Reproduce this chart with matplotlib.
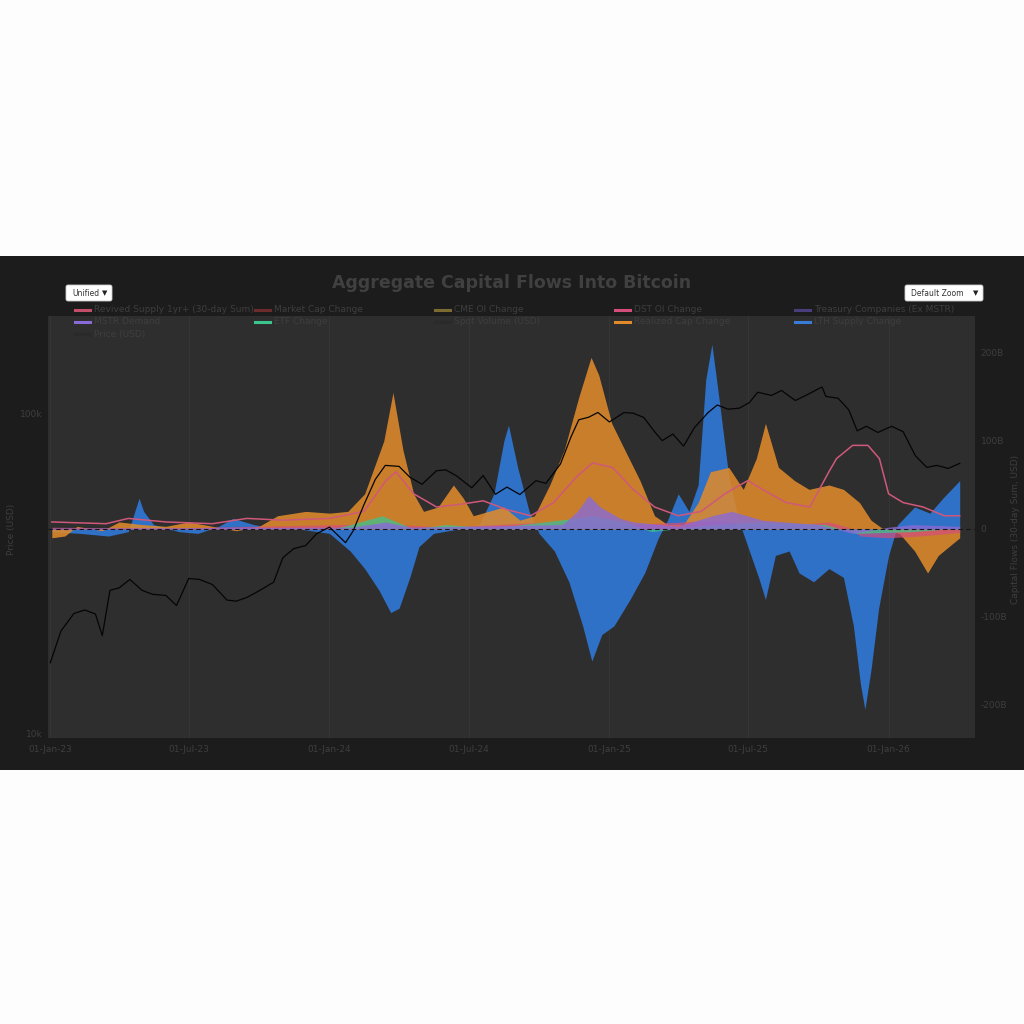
"""Aggregate capital flows into Bitcoin, dark dashboard style."""

import matplotlib

matplotlib.use("Agg")
import matplotlib.dates as mdates
import matplotlib.pyplot as plt
import pandas as pd
from matplotlib.lines import Line2D
from matplotlib.patches import FancyBboxPatch, Rectangle
from matplotlib.ticker import NullLocator

# ---- data (USD billions for flows) ----
price_dates = [
    "2023-01-01", "2023-01-15", "2023-02-01", "2023-02-15", "2023-03-01", "2023-03-10",
    "2023-03-20", "2023-04-01", "2023-04-15", "2023-05-01", "2023-05-15", "2023-06-01",
    "2023-06-15", "2023-07-01", "2023-07-15", "2023-08-01", "2023-08-20", "2023-09-01",
    "2023-09-15", "2023-10-01", "2023-10-20", "2023-11-01", "2023-11-15", "2023-12-01",
    "2023-12-15", "2024-01-01", "2024-01-22", "2024-02-01", "2024-02-15", "2024-03-01",
    "2024-03-14", "2024-04-01", "2024-04-15", "2024-05-01", "2024-05-20", "2024-06-01",
    "2024-06-15", "2024-07-05", "2024-07-20", "2024-08-05", "2024-08-20", "2024-09-06",
    "2024-09-27", "2024-10-10", "2024-10-29", "2024-11-12", "2024-11-22", "2024-12-05",
    "2024-12-17", "2025-01-01", "2025-01-20", "2025-02-01", "2025-02-15", "2025-03-01",
    "2025-03-11", "2025-03-25", "2025-04-08", "2025-04-22", "2025-05-10", "2025-05-22",
    "2025-06-05", "2025-06-20", "2025-07-03", "2025-07-14", "2025-08-01", "2025-08-14",
    "2025-09-01", "2025-09-15", "2025-10-06", "2025-10-11", "2025-10-27", "2025-11-10",
    "2025-11-21", "2025-12-03", "2025-12-18", "2026-01-05", "2026-01-20", "2026-02-05",
    "2026-02-20", "2026-03-05", "2026-03-20", "2026-04-04",
]
price_usd = [
    16600, 20900, 23700, 24300, 23600, 20200,
    28000, 28500, 30300, 28000, 27200, 27000,
    25100, 30500, 30300, 29200, 26100, 25900,
    26600, 27900, 29700, 35400, 37800, 38700,
    42100, 44200, 39500, 43000, 51900, 62400,
    69000, 68500, 63400, 60200, 66400, 66800,
    64000, 58700, 64100, 56000, 59000, 55900,
    61800, 60600, 69700, 85000, 95900, 97700,
    101100, 94400, 101000, 100600, 97500, 88000,
    82500, 86500, 79300, 90500, 101000, 106700,
    103500, 104300, 108600, 117000, 114300, 118500,
    110200, 114400, 121500, 113500, 112000, 103000,
    88500, 91500, 87500, 91500, 88000, 74000,
    68000, 69000, 67500, 70000,
]

lth_dates = [
    "2023-01-03", "2023-02-09", "2023-03-18", "2023-04-13", "2023-04-27", "2023-05-03",
    "2023-05-16", "2023-06-18", "2023-07-13", "2023-08-09", "2023-08-28", "2023-09-24",
    "2023-10-13", "2023-11-22", "2024-01-01", "2024-01-28", "2024-02-16", "2024-03-06",
    "2024-03-21", "2024-04-01", "2024-04-15", "2024-04-27", "2024-05-16", "2024-06-18",
    "2024-07-15", "2024-08-03", "2024-08-16", "2024-08-22", "2024-09-03", "2024-09-18",
    "2024-10-01", "2024-10-21", "2024-11-09", "2024-11-27", "2024-12-09", "2024-12-22",
    "2025-01-07", "2025-01-28", "2025-02-16", "2025-03-06", "2025-03-18", "2025-04-01",
    "2025-04-15", "2025-04-27", "2025-05-07", "2025-05-15", "2025-05-24", "2025-06-06",
    "2025-06-19", "2025-07-01", "2025-07-15", "2025-07-24", "2025-08-06", "2025-08-24",
    "2025-09-06", "2025-09-25", "2025-10-15", "2025-11-03", "2025-11-16", "2025-11-25",
    "2025-12-01", "2025-12-09", "2025-12-19", "2026-01-01", "2026-01-13", "2026-02-04",
    "2026-02-24", "2026-03-13", "2026-04-04",
]
lth_change = [
    -3, -5, -8, -3, 35, 20,
    5, -3, -5, 3, 12, 5,
    2, 0, -5, -25, -45, -70,
    -95, -90, -55, -20, -5, 0,
    5, 40, 100, 118, 70, 20,
    -5, -25, -60, -110, -150, -120,
    -110, -80, -50, -10, 10, 40,
    20, 50, 170, 210, 150, 60,
    10, -20, -55, -80, -30, -25,
    -50, -60, -45, -55, -110, -175,
    -205, -160, -90, -30, 5, 25,
    18, 35, 55,
]

realized_dates = [
    "2023-01-03", "2023-01-20", "2023-02-05", "2023-03-10", "2023-04-01", "2023-05-01",
    "2023-06-01", "2023-07-01", "2023-08-01", "2023-09-01", "2023-10-01", "2023-10-25",
    "2023-12-01", "2024-01-01", "2024-01-25", "2024-02-16", "2024-03-12", "2024-03-24",
    "2024-04-06", "2024-04-20", "2024-05-03", "2024-05-22", "2024-06-11", "2024-06-24",
    "2024-07-07", "2024-07-27", "2024-08-16", "2024-09-06", "2024-09-25", "2024-10-15",
    "2024-11-03", "2024-11-22", "2024-12-08", "2024-12-18", "2025-01-04", "2025-01-21",
    "2025-02-10", "2025-03-01", "2025-03-18", "2025-04-08", "2025-04-27", "2025-05-13",
    "2025-06-06", "2025-06-25", "2025-07-12", "2025-07-24", "2025-08-10", "2025-08-31",
    "2025-09-19", "2025-10-15", "2025-11-03", "2025-11-24", "2025-12-09", "2025-12-25",
    "2026-01-15", "2026-02-04", "2026-02-21", "2026-03-07", "2026-04-04",
]
realized_change = [
    -10, -8, 3, -2, 8, 5,
    3, 8, 3, -2, 3, 15,
    20, 18, 20, 40, 100, 155,
    90, 40, 20, 25, 50, 35,
    15, 20, 25, 10, 15, 50,
    90, 150, 195, 175, 120, 90,
    55, 15, 5, 5, 30, 65,
    70, 45, 80, 120, 70, 55,
    45, 50, 45, 30, 10, 0,
    -5, -25, -50, -30, -10,
]

revived_dates = [
    "2023-01-03", "2023-03-15", "2023-04-13", "2023-06-01", "2023-08-01", "2023-09-15",
    "2023-11-01", "2024-01-01", "2024-02-15", "2024-03-15", "2024-03-28", "2024-04-20",
    "2024-05-20", "2024-06-20", "2024-07-20", "2024-08-20", "2024-09-20", "2024-10-20",
    "2024-11-20", "2024-12-10", "2025-01-05", "2025-02-01", "2025-03-01", "2025-04-01",
    "2025-05-01", "2025-06-01", "2025-07-01", "2025-07-20", "2025-08-20", "2025-09-20",
    "2025-10-15", "2025-10-25", "2025-11-15", "2025-12-05", "2025-12-20", "2026-01-01",
    "2026-01-20", "2026-02-15", "2026-03-15", "2026-04-04",
]
revived_supply = [
    8, 6, 12, 8, 6, 12,
    10, 12, 20, 55, 65, 40,
    25, 28, 32, 22, 15, 30,
    60, 75, 70, 45, 25, 15,
    20, 40, 55, 45, 30, 25,
    65, 80, 95, 95, 80, 40,
    30, 25, 15, 15,
]

mstr_dates = [
    "2023-01-03", "2024-02-01", "2024-03-15", "2024-04-15", "2024-11-01", "2024-11-20",
    "2024-12-05", "2024-12-20", "2025-01-15", "2025-02-01", "2025-04-01", "2025-05-15",
    "2025-06-10", "2025-07-20", "2025-10-01", "2025-11-15", "2026-01-01", "2026-02-01",
    "2026-04-04",
]
mstr_demand = [
    1, 2, 8, 2, 5, 20,
    38, 25, 12, 8, 3, 15,
    20, 10, 5, -5, 2, 5,
    3,
]

etf_dates = [
    "2023-01-03", "2024-01-05", "2024-01-20", "2024-03-10", "2024-04-20", "2024-06-01",
    "2024-08-01", "2024-11-15", "2024-12-10", "2025-01-20", "2025-02-25", "2025-05-15",
    "2025-07-15", "2025-10-10", "2025-11-20", "2026-02-01", "2026-04-04",
]
etf_change = [
    0, 0, 3, 15, 0, 5,
    1, 12, 15, 8, -3, 5,
    8, 5, -5, -3, 1,
]

perp_dates = [
    "2023-01-03", "2023-06-01", "2024-03-10", "2024-06-01", "2024-12-01", "2025-01-10",
    "2025-05-20", "2025-06-20", "2025-09-01", "2025-10-15", "2025-11-10", "2025-11-25",
    "2026-01-01", "2026-02-10", "2026-03-10", "2026-04-04",
]
perp_oi_change = [
    2, 1, 6, 2, 10, 4,
    10, 6, 5, 8, 2, -8,
    -10, -8, -6, -4,
]

# legend entries: (label, colour), laid out five per row
legend_items = [
    ("Revived Supply 1yr+ (30-day Sum)", "#c24d68"),
    ("Market Cap Change", "#6e2b2b"),
    ("CME OI Change", "#7d6a31"),
    ("DST OI Change", "#d44d7c"),
    ("Treasury Companies (Ex MSTR)", "#4a3d7c"),
    ("MSTR Demand", "#8a6ad6"),
    ("ETF Change", "#3cc48c"),
    ("Spot Volume (USD)", "#2a2a2a"),
    ("Realized Cap Change", "#e08a2c"),
    ("LTH Supply Change", "#3a7bd6"),
    ("Price (USD)", "#2a2a2a"),
]

flow_ticks = [-200, -100, 0, 100, 200]
flow_tick_labels = ["-200B", "-100B", "0", "100B", "200B"]
price_ticks = [10000, 100000]
price_tick_labels = ["10k", "100k"]

TEXT = "#3e3e3e"
PANEL = "#1c1c1c"
PLOT_BG = "#2e2e2e"


def to_dates(values):
    return pd.to_datetime(values)


fig = plt.figure(figsize=(10.24, 10.24), dpi=100)
fig.patch.set_facecolor("#fdfdfd")
fig.patches.append(
    Rectangle((0, 1 - 770 / 1024), 1, 514 / 1024, transform=fig.transFigure,
              facecolor=PANEL, edgecolor="none", zorder=-10)
)

ax = fig.add_axes([48 / 1024, 1 - 738 / 1024, 927 / 1024, 422 / 1024])
ax.set_facecolor(PLOT_BG)
for spine in ax.spines.values():
    spine.set_visible(False)

ax.fill_between(to_dates(lth_dates), 0, lth_change, color="#2f75d0",
                linewidth=0, alpha=0.95, zorder=2)
ax.fill_between(to_dates(realized_dates), 0, realized_change, color="#e08a2c",
                linewidth=0, alpha=0.88, zorder=3)
ax.fill_between(to_dates(perp_dates), 0, perp_oi_change, color="#d44d7c",
                linewidth=0, alpha=0.7, zorder=4)
ax.fill_between(to_dates(etf_dates), 0, etf_change, color="#3cc48c",
                linewidth=0, alpha=0.75, zorder=4)
ax.fill_between(to_dates(mstr_dates), 0, mstr_demand, color="#8a6ad6",
                linewidth=0, alpha=0.8, zorder=5)
ax.plot(to_dates(revived_dates), revived_supply, color="#d0587a", linewidth=1.1,
        zorder=6)
ax.axhline(0, color="#151515", linewidth=0.8, linestyle=(0, (4, 3)), zorder=7)

ax.set_ylim(-237.5, 242)
ax.set_yticks(flow_ticks)
ax.set_yticklabels(flow_tick_labels)
ax.grid(axis="x", color="#353535", linewidth=0.8)

ax.set_xlim(pd.Timestamp("2022-12-29"), pd.Timestamp("2026-04-24"))
ax.xaxis.set_major_locator(mdates.MonthLocator(bymonth=[1, 7]))
ax.xaxis.set_major_formatter(mdates.DateFormatter("%d-%b-%y"))
ax.tick_params(axis="x", colors=TEXT, labelsize=6.5, length=0, pad=5)

ax_price = ax.twinx()
ax_price.set_yscale("log")
ax_price.set_ylim(9646, 202800)
ax_price.plot(to_dates(price_dates), price_usd, color="#050505", linewidth=0.9,
              zorder=8)
ax_price.set_yticks(price_ticks)
ax_price.set_yticklabels(price_tick_labels)
ax_price.yaxis.set_minor_locator(NullLocator())
for spine in ax_price.spines.values():
    spine.set_visible(False)

# twinx puts the host ticks on the left; swap sides so price sits left
ax.yaxis.tick_right()
ax.tick_params(axis="y", colors=TEXT, labelsize=6.5, length=0, pad=4)
ax_price.yaxis.tick_left()
ax_price.tick_params(axis="y", colors=TEXT, labelsize=6.5, length=0, pad=4)

# axis titles placed in the dark margin, like the dashboard
fig.text(12 / 1024, 1 - 529 / 1024, "Price (USD)", rotation=90, ha="center",
         va="center", fontsize=6.5, color=TEXT)
fig.text(1016 / 1024, 1 - 529 / 1024, "Capital Flows (30-day Sum, USD)",
         rotation=90, ha="center", va="center", fontsize=6.5, color=TEXT)

fig.text(0.5, 1 - 283 / 1024, "Aggregate Capital Flows Into Bitcoin",
         ha="center", va="center", fontsize=12.5, fontweight="bold", color="#404040")

col_x = [75, 255, 435, 615, 795]
row_y = [310, 322, 334]
for i, (label, colour) in enumerate(legend_items):
    x0 = col_x[i % 5]
    y0 = 1 - row_y[i // 5] / 1024
    fig.lines.append(Line2D([x0 / 1024, (x0 + 15) / 1024], [y0, y0],
                            transform=fig.transFigure, color=colour, linewidth=2.2))
    fig.text((x0 + 19) / 1024, y0, label, ha="left", va="center",
             fontsize=6.5, color=TEXT)

for x0, width, label in [(66, 46, "Unified"), (905, 78, "Default Zoom")]:
    fig.patches.append(
        FancyBboxPatch((x0 / 1024, 1 - 301 / 1024), width / 1024, 16 / 1024,
                       boxstyle="round,pad=0,rounding_size=0.002",
                       transform=fig.transFigure, facecolor="white",
                       edgecolor="#cccccc", linewidth=0.6, zorder=5)
    )
    fig.text((x0 + 6) / 1024, 1 - 293 / 1024, label, ha="left", va="center",
             fontsize=5.5, color="#333333", zorder=6)
    fig.text((x0 + width - 5) / 1024, 1 - 293 / 1024, "\u25bc", ha="right",
             va="center", fontsize=5, color="#222222", zorder=6)

fig.savefig("out.png", dpi=100, facecolor=fig.get_facecolor())
